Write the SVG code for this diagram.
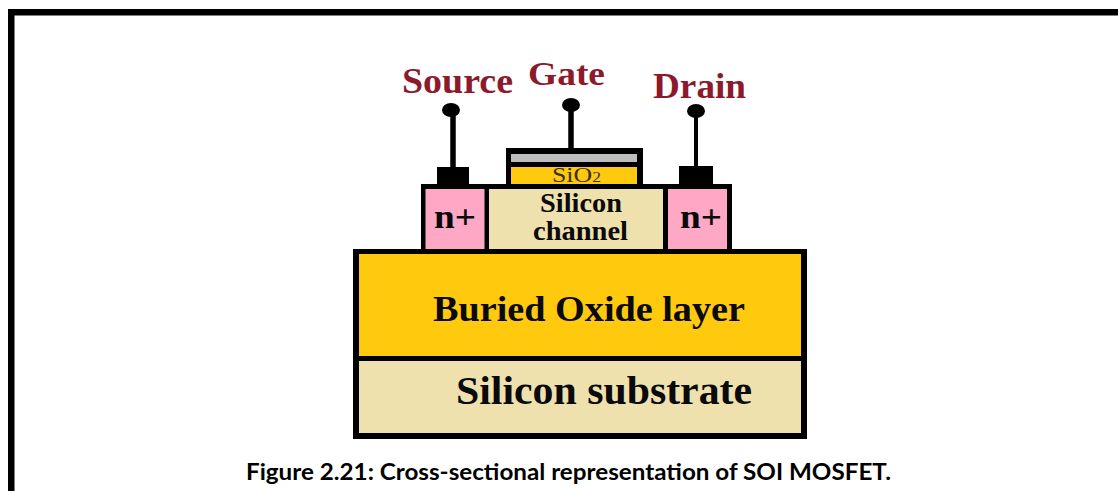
<svg xmlns="http://www.w3.org/2000/svg" width="1118" height="491" viewBox="0 0 1118 491">
<style>
.k{fill:#000}
.pin{stroke:#000;fill:none}
.lbl{font-family:"Liberation Serif",serif;font-weight:700;fill:#0a0a0a}
.term{font-family:"Liberation Serif",serif;font-weight:700;fill:#8c1a2c}
.cap{font-family:Lato,"Open Sans",sans-serif;font-weight:700;fill:#000}
.gold{fill:#ffc90e}
.beige{fill:#eee1ae}
.pink{fill:#ffa8c5}
</style>
<rect width="1118" height="491" fill="#fff"/>
<g id="frame"><path class="k" d="M8 491V9H1118V15.500H14.500V491Z"/></g>
<g id="substrate-stack">
<rect class="k" x="353" y="249" width="454" height="190"/>
<rect class="gold" x="359" y="254" width="442" height="102"/>
<rect class="beige" x="359" y="361" width="442" height="72"/>
</g>
<g id="buried-oxide"><text class="lbl" x="433" y="321" font-size="35" textLength="312" lengthAdjust="spacingAndGlyphs">Buried Oxide layer</text></g>
<g id="silicon-substrate"><text class="lbl" x="456" y="404" font-size="39" textLength="296" lengthAdjust="spacingAndGlyphs">Silicon substrate</text></g>
<g id="device-layer">
<rect class="k" x="421" y="184" width="311" height="66"/>
</g>
<g id="n-source">
<rect class="pink" x="425.500" y="189" width="59" height="60"/>
<text class="lbl" x="434" y="228" font-size="34" textLength="42" lengthAdjust="spacingAndGlyphs">n+</text>
</g>
<g id="silicon-channel">
<rect class="beige" x="489" y="189" width="174" height="60"/>
<text class="lbl" x="540" y="212" font-size="27" textLength="82" lengthAdjust="spacingAndGlyphs">Silicon</text>
<text class="lbl" x="533" y="240" font-size="27" textLength="95" lengthAdjust="spacingAndGlyphs">channel</text>
</g>
<g id="n-drain">
<rect class="pink" x="668" y="189" width="59" height="60"/>
<text class="lbl" x="680" y="228" font-size="34" textLength="42" lengthAdjust="spacingAndGlyphs">n+</text>
</g>
<g id="gate-stack">
<rect class="k" x="506" y="148" width="137" height="37"/>
<rect x="511" y="154" width="126" height="8" fill="#bebebe"/>
<rect class="gold" x="511" y="167" width="126" height="17"/>
<text x="552" y="182" font-family="Liberation Serif,serif" font-size="22" fill="#3a2f10" textLength="49" lengthAdjust="spacingAndGlyphs">SiO<tspan font-size="15">2</tspan></text>
</g>
<g id="source-contact"><rect class="k" x="437" y="167" width="32" height="18"/></g>
<g id="drain-contact"><rect class="k" x="679" y="166" width="34" height="19"/></g>
<g id="connectors">
<path class="pin" stroke-width="5.500" d="M453 110V168"/>
<path class="pin" stroke-width="5.500" d="M571 105V149"/>
<path class="pin" stroke-width="4" d="M696 111V167"/>
<ellipse class="k" cx="451" cy="110" rx="9" ry="7"/>
<ellipse class="k" cx="571" cy="105" rx="9" ry="7"/>
<ellipse class="k" cx="696" cy="111" rx="9" ry="7"/>
</g>
<g id="source-label"><text class="term" x="402" y="93" font-size="35" textLength="111" lengthAdjust="spacingAndGlyphs">Source</text></g>
<g id="gate-label"><text class="term" x="528" y="85" font-size="34" textLength="77" lengthAdjust="spacingAndGlyphs">Gate</text></g>
<g id="drain-label"><text class="term" x="653" y="98" font-size="36" textLength="93" lengthAdjust="spacingAndGlyphs">Drain</text></g>
<g id="caption"><text class="cap" x="246" y="480" font-size="22" textLength="645" lengthAdjust="spacingAndGlyphs">Figure 2.21: Cross-sectional representation of SOI MOSFET.</text></g>
</svg>
